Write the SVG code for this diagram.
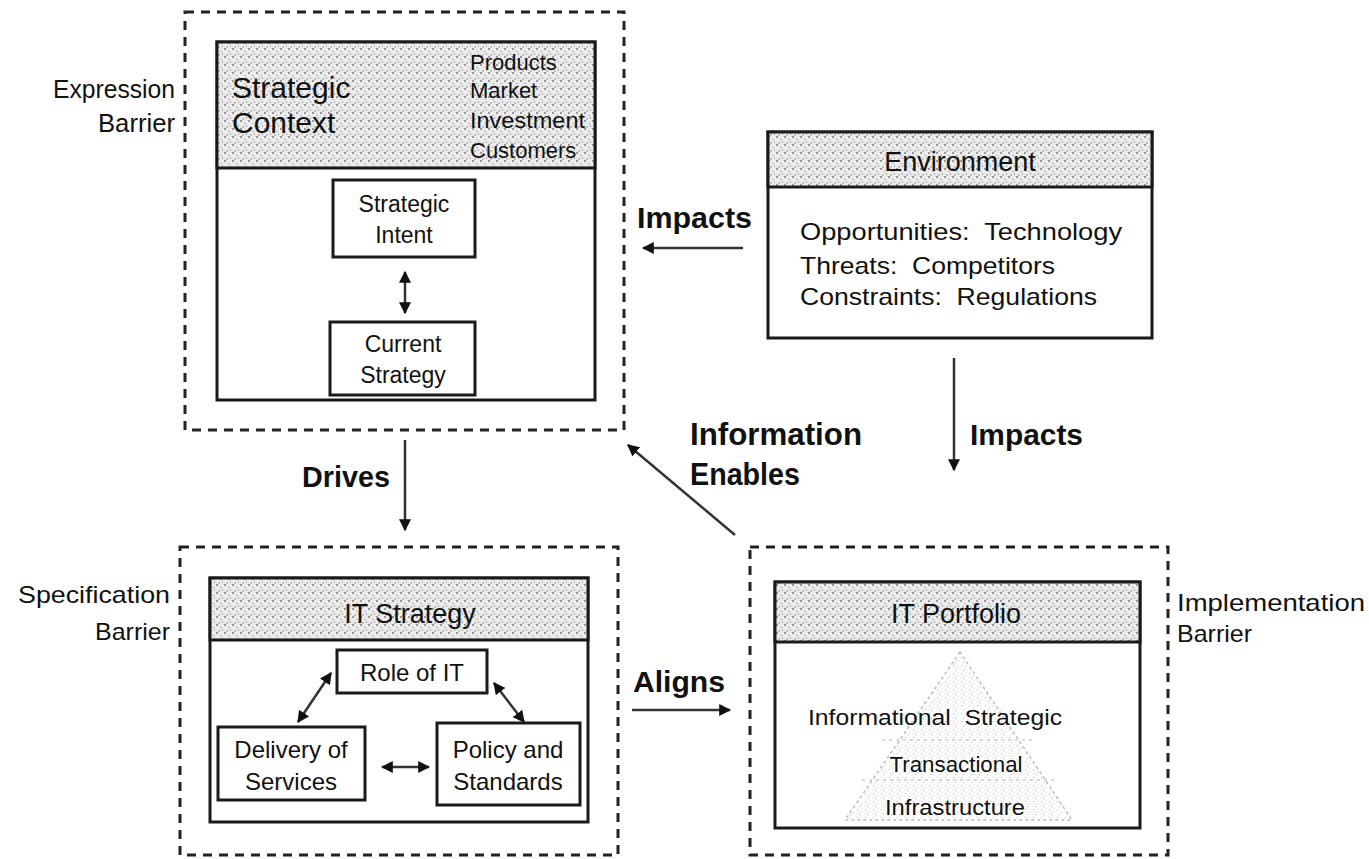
<svg xmlns="http://www.w3.org/2000/svg" width="1369" height="859" viewBox="0 0 1369 859">
<style>
.t{font-family:"Liberation Sans",Arial,sans-serif;fill:#111}
.b{font-weight:bold}
.dash{fill:none;stroke:#222;stroke-width:3;stroke-dasharray:9 7}
.box{fill:#fff;stroke:#1a1a1a;stroke-width:3}
.hdr{fill:url(#stip);stroke:#1a1a1a;stroke-width:3}
.conn{fill:none;stroke:#333;stroke-width:2.5}
</style>
<defs>
<pattern id="stip" width="8" height="8" patternUnits="userSpaceOnUse">
<rect width="8" height="8" fill="#ececec"/>
<rect x="0" y="0" width="2" height="2" fill="#9a9a9a"/>
<rect x="4" y="3" width="2" height="1" fill="#b5b5b5"/>
<rect x="2" y="6" width="2" height="2" fill="#c0c0c0"/>
<rect x="6" y="5" width="1" height="2" fill="#a8a8a8"/>
</pattern>
<pattern id="pstip" width="8" height="8" patternUnits="userSpaceOnUse">
<rect width="8" height="8" fill="#fff"/>
<rect x="1" y="1" width="1" height="1" fill="#bbb"/>
<rect x="5" y="4" width="1" height="1" fill="#ccc"/>
<rect x="3" y="6" width="1" height="1" fill="#c4c4c4"/>
</pattern>
<marker id="ah" viewBox="0 0 10 10" refX="9" refY="5" markerWidth="12" markerHeight="12" markerUnits="userSpaceOnUse" orient="auto-start-reverse">
<path d="M0,0 L10,5 L0,10 z" fill="#111"/>
</marker>
</defs>
<rect width="1369" height="859" fill="#fff"/>

<g id="strategic-context">
<rect class="dash" x="185" y="12" width="439" height="418"/>
<rect class="box" x="217" y="42" width="378" height="358"/>
<rect class="hdr" x="217" y="42" width="378" height="126"/>
<text class="t" x="232" y="98" font-size="30">Strategic</text>
<text class="t" x="232" y="133" font-size="30">Context</text>
<text class="t" x="470" y="70" font-size="22">Products</text>
<text class="t" x="470" y="98" font-size="22">Market</text>
<text class="t" x="470" y="128" font-size="22" textLength="115" lengthAdjust="spacingAndGlyphs">Investment</text>
<text class="t" x="470" y="158" font-size="22">Customers</text>
<text class="t" x="175" y="98" font-size="25" text-anchor="end" textLength="122" lengthAdjust="spacingAndGlyphs">Expression</text>
<text class="t" x="175" y="132" font-size="25" text-anchor="end" textLength="77" lengthAdjust="spacingAndGlyphs">Barrier</text>
</g>
<g id="strategic-intent">
<rect class="box" x="333" y="180" width="142" height="77"/>
<text class="t" x="404" y="212" font-size="23" text-anchor="middle">Strategic</text>
<text class="t" x="404" y="243" font-size="23" text-anchor="middle">Intent</text>
</g>
<g id="current-strategy">
<rect class="box" x="330" y="322" width="145" height="73"/>
<text class="t" x="403" y="352" font-size="23" text-anchor="middle">Current</text>
<text class="t" x="403" y="383" font-size="23" text-anchor="middle">Strategy</text>
</g>

<g id="environment">
<rect class="box" x="768" y="132" width="384" height="206"/>
<rect class="hdr" x="768" y="132" width="384" height="55"/>
<text class="t" x="960" y="171" font-size="27" text-anchor="middle">Environment</text>
<text class="t" x="800" y="240" font-size="24" xml:space="preserve" textLength="322" lengthAdjust="spacingAndGlyphs">Opportunities:  Technology</text>
<text class="t" x="800" y="274" font-size="24" xml:space="preserve" textLength="255" lengthAdjust="spacingAndGlyphs">Threats:  Competitors</text>
<text class="t" x="800" y="305" font-size="24" xml:space="preserve" textLength="297" lengthAdjust="spacingAndGlyphs">Constraints:  Regulations</text>
</g>

<g id="it-strategy">
<rect class="dash" x="180" y="547" width="438" height="308"/>
<rect class="box" x="210" y="578" width="378" height="244"/>
<rect class="hdr" x="210" y="578" width="378" height="62"/>
<text class="t" x="410" y="623" font-size="27" text-anchor="middle">IT Strategy</text>
<text class="t" x="170" y="603" font-size="24" text-anchor="end" textLength="152" lengthAdjust="spacingAndGlyphs">Specification</text>
<text class="t" x="170" y="640" font-size="24" text-anchor="end" textLength="75" lengthAdjust="spacingAndGlyphs">Barrier</text>
</g>
<g id="role-of-it">
<rect class="box" x="337" y="650" width="150" height="43"/>
<text class="t" x="412" y="681" font-size="24" text-anchor="middle">Role of IT</text>
</g>
<g id="delivery-of-services">
<rect class="box" x="218" y="727" width="147" height="73"/>
<text class="t" x="291" y="758" font-size="24" text-anchor="middle">Delivery of</text>
<text class="t" x="291" y="790" font-size="24" text-anchor="middle">Services</text>
</g>
<g id="policy-and-standards">
<rect class="box" x="437" y="723" width="143" height="82"/>
<text class="t" x="508" y="758" font-size="24" text-anchor="middle">Policy and</text>
<text class="t" x="508" y="790" font-size="24" text-anchor="middle">Standards</text>
</g>

<g id="it-portfolio">
<rect class="dash" x="750" y="547" width="418" height="308"/>
<rect class="box" x="775" y="582" width="365" height="246"/>
<rect class="hdr" x="775" y="582" width="365" height="60"/>
<text class="t" x="956" y="623" font-size="27" text-anchor="middle">IT Portfolio</text>
<text class="t" x="1177" y="611" font-size="24" textLength="188" lengthAdjust="spacingAndGlyphs">Implementation</text>
<text class="t" x="1177" y="642" font-size="24" textLength="75" lengthAdjust="spacingAndGlyphs">Barrier</text>
<polygon points="960,652 845,820 1072,820" fill="url(#pstip)" stroke="#bbb" stroke-width="1.5" stroke-dasharray="3 3"/>
<line x1="882" y1="740" x2="1032" y2="740" stroke="#ccc" stroke-width="1.5" stroke-dasharray="3 4"/>
<line x1="862" y1="780" x2="1055" y2="780" stroke="#ccc" stroke-width="1.5" stroke-dasharray="3 4"/>
<text class="t" x="808" y="725" font-size="22" xml:space="preserve" textLength="254" lengthAdjust="spacingAndGlyphs">Informational  Strategic</text>
<text class="t" x="956" y="772" font-size="22" text-anchor="middle" textLength="133" lengthAdjust="spacingAndGlyphs">Transactional</text>
<text class="t" x="955" y="815" font-size="22" text-anchor="middle" textLength="140" lengthAdjust="spacingAndGlyphs">Infrastructure</text>
</g>

<g id="connectors">
<line class="conn" x1="405" y1="272" x2="405" y2="313" marker-start="url(#ah)" marker-end="url(#ah)"/>
<line class="conn" x1="743" y1="248" x2="643" y2="248" marker-end="url(#ah)"/>
<line class="conn" x1="954" y1="358" x2="954" y2="470" marker-end="url(#ah)"/>
<line class="conn" x1="405" y1="440" x2="405" y2="530" marker-end="url(#ah)"/>
<line class="conn" x1="735" y1="535" x2="628" y2="445" marker-end="url(#ah)"/>
<line class="conn" x1="632" y1="710" x2="730" y2="710" marker-end="url(#ah)"/>
<line class="conn" x1="331" y1="673" x2="298" y2="722" marker-start="url(#ah)" marker-end="url(#ah)"/>
<line class="conn" x1="494" y1="683" x2="524" y2="722" marker-start="url(#ah)" marker-end="url(#ah)"/>
<line class="conn" x1="382" y1="767" x2="429" y2="767" marker-start="url(#ah)" marker-end="url(#ah)"/>
<text class="t b" x="637" y="228" font-size="30" textLength="115" lengthAdjust="spacingAndGlyphs">Impacts</text>
<text class="t b" x="970" y="445" font-size="30" textLength="113" lengthAdjust="spacingAndGlyphs">Impacts</text>
<text class="t b" x="690" y="445" font-size="31" textLength="172" lengthAdjust="spacingAndGlyphs">Information</text>
<text class="t b" x="690" y="485" font-size="31" textLength="110" lengthAdjust="spacingAndGlyphs">Enables</text>
<text class="t b" x="302" y="487" font-size="29" textLength="88" lengthAdjust="spacingAndGlyphs">Drives</text>
<text class="t b" x="633" y="692" font-size="30" textLength="92" lengthAdjust="spacingAndGlyphs">Aligns</text>
</g>
</svg>
